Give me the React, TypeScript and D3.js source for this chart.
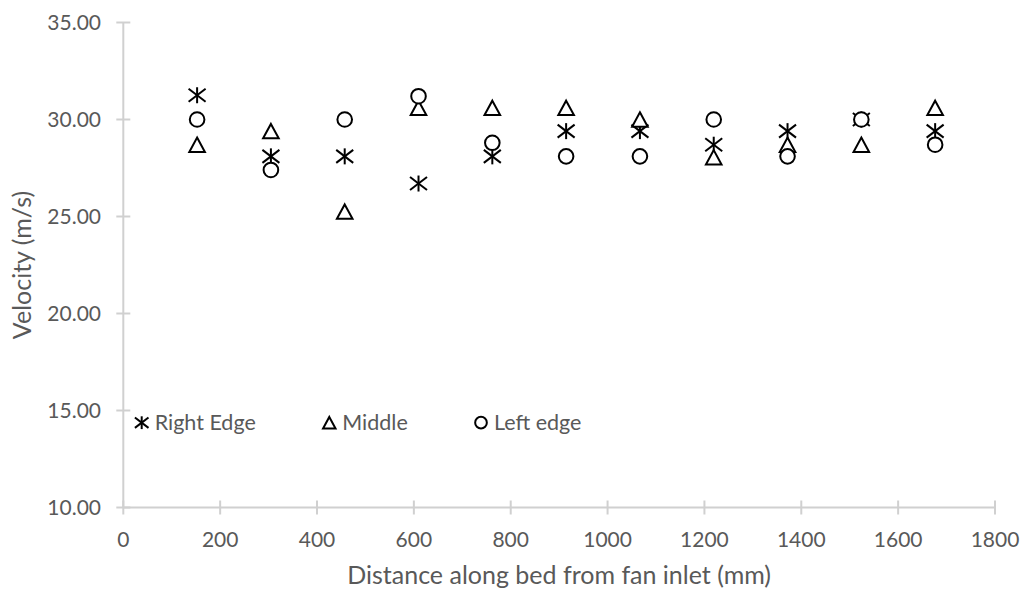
import React from "react";
import * as d3 from "d3";

const distances = [152.4, 304.8, 457.2, 609.6, 762, 914.4, 1066.8, 1219.2, 1371.6, 1524, 1676.4];
const rightEdge = [31.25, 28.1, 28.1, 26.7, 28.1, 29.4, 29.4, 28.7, 29.4, 30.0, 29.4];
const middle = [28.7, 29.4, 25.25, 30.6, 30.6, 30.6, 30.0, 28.05, 28.7, 28.7, 30.6];
const leftEdge = [30.0, 27.4, 30.0, 31.2, 28.8, 28.1, 28.1, 30.0, 28.1, 30.0, 28.7];
const xTicks = [0, 200, 400, 600, 800, 1000, 1200, 1400, 1600, 1800];
const yTicks = [10, 15, 20, 25, 30, 35];
const seriesNames = ["Right Edge", "Middle", "Left edge"];

const W = 1028;
const H = 589;
const FONT = "Lato, 'Open Sans', sans-serif";
const TEXT = "#595959";
const AXIS = "#d0d0d0";

function Marker({ kind, cx, cy, s = 1 }: { kind: string; cx: number; cy: number; s?: number }) {
  if (kind === "star") {
    const v = 8 * s, dx = 8.5 * s, dy = 6.5 * s;
    return (
      <g stroke="#000" strokeWidth={2} strokeLinecap="butt">
        <line x1={cx} y1={cy - v} x2={cx} y2={cy + v} />
        <line x1={cx - dx} y1={cy - dy} x2={cx + dx} y2={cy + dy} />
        <line x1={cx - dx} y1={cy + dy} x2={cx + dx} y2={cy - dy} />
      </g>
    );
  }
  if (kind === "tri") {
    const w = 7.8 * s, h = 7.2 * s;
    return (
      <path
        d={`M${cx},${cy - h}L${cx + w},${cy + h}L${cx - w},${cy + h}Z`}
        fill="#fff"
        stroke="#000"
        strokeWidth={2}
        strokeLinejoin="miter"
      />
    );
  }
  return <circle cx={cx} cy={cy} r={7.3 * s} fill="#fff" stroke="#000" strokeWidth={2} />;
}

export default function App() {
  const x = d3.scaleLinear().domain([0, 1800]).range([123.3, 995]);
  const y = d3.scaleLinear().domain([10, 35]).range([507.5, 22.5]);
  const series = [
    { name: seriesNames[0], kind: "star", values: rightEdge },
    { name: seriesNames[1], kind: "tri", values: middle },
    { name: seriesNames[2], kind: "circ", values: leftEdge },
  ];
  const legendX = [141.7, 329.3, 481];
  const legendY = 422.7;

  return (
    <svg
      width={W}
      height={H}
      style={{ position: "absolute", left: 0, top: 0, background: "#fff" }}
      fontFamily={FONT}
    >
      <rect x={0} y={0} width={W} height={H} fill="#fff" />
      {/* axes */}
      <line x1={x(0)} y1={y(10)} x2={x(1800)} y2={y(10)} stroke={AXIS} strokeWidth={2} />
      <line x1={x(0)} y1={y(10)} x2={x(0)} y2={y(35)} stroke={AXIS} strokeWidth={2} />
      {xTicks.map((t) => (
        <g key={"xt" + t}>
          <line x1={x(t)} x2={x(t)} y1={y(10) - 7} y2={y(10) + 7} stroke={AXIS} strokeWidth={2} />
          <text x={x(t)} y={546.5} textAnchor="middle" fill={TEXT} fontSize={21}>
            {t}
          </text>
        </g>
      ))}
      {yTicks.map((t) => (
        <g key={"yt" + t}>
          <line x1={x(0) - 7} x2={x(0) + 7} y1={y(t)} y2={y(t)} stroke={AXIS} strokeWidth={2} />
          <text x={101} y={y(t)} dy="0.36em" textAnchor="end" fill={TEXT} fontSize={21}>
            {d3.format(".2f")(t)}
          </text>
        </g>
      ))}
      {/* titles */}
      <text x={(x(0) + x(1800)) / 2} y={584} textAnchor="middle" fill={TEXT} fontSize={25}>
        Distance along bed from fan inlet (mm)
      </text>
      <text
        transform={`translate(31,${(y(10) + y(35)) / 2}) rotate(-90)`}
        textAnchor="middle"
        fill={TEXT}
        fontSize={25}
      >
        Velocity (m/s)
      </text>
      {/* data */}
      {series.map((s) => (
        <g key={s.name}>
          {s.values.map((v, i) => (
            <Marker key={i} kind={s.kind} cx={x(distances[i])} cy={y(v)} />
          ))}
        </g>
      ))}
      {/* legend */}
      {series.map((s, i) => (
        <g key={"lg" + s.name}>
          <Marker kind={s.kind} cx={legendX[i]} cy={legendY} s={0.8} />
          <text x={legendX[i] + 13} y={legendY} dy="0.36em" fill={TEXT} fontSize={21.5}>
            {s.name}
          </text>
        </g>
      ))}
    </svg>
  );
}
